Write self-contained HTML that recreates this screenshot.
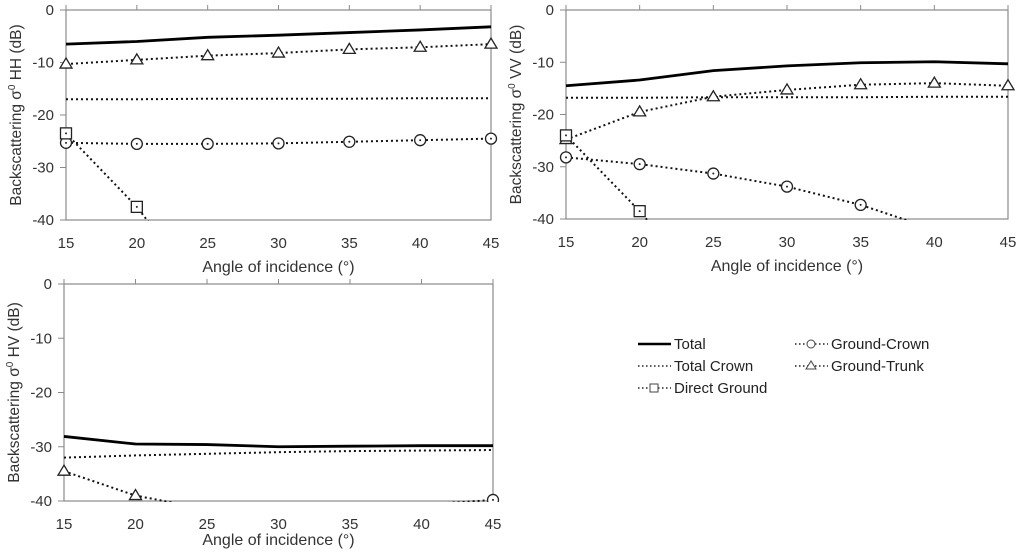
<!DOCTYPE html>
<html><head><meta charset="utf-8"><style>
html,body{margin:0;padding:0;background:#fff;width:1024px;height:554px;overflow:hidden;}
svg{display:block;font-family:"Liberation Sans",sans-serif;}
</style></head><body>
<svg id="chart" width="1024" height="554" viewBox="0 0 1024 554"></svg>
<script>
const angles=[15,20,25,30,35,40,45];
const yTicks=[0,-10,-20,-30,-40];
const hhTotal=[-6.5,-6,-5.2,-4.8,-4.3,-3.8,-3.2];
const hhCrown=[-17,-17,-16.9,-16.9,-16.9,-16.8,-16.8];
const hhDirect=[-23.5,-37.5,-55,-70,-85,-100,-115];
const hhGC=[-25.3,-25.5,-25.5,-25.4,-25.1,-24.8,-24.5];
const hhGT=[-10.3,-9.5,-8.7,-8.2,-7.5,-7.1,-6.5];
const vvTotal=[-14.5,-13.4,-11.6,-10.7,-10.1,-9.9,-10.3];
const vvCrown=[-16.8,-16.8,-16.7,-16.7,-16.7,-16.6,-16.6];
const vvDirect=[-24,-38.5,-55,-70,-85,-100,-115];
const vvGC=[-28.2,-29.5,-31.3,-33.8,-37.3,-42,-47];
const vvGT=[-24.8,-19.5,-16.6,-15.3,-14.3,-14,-14.5];
const hvTotal=[-28.1,-29.5,-29.6,-30,-29.9,-29.8,-29.8];
const hvCrown=[-32,-31.6,-31.3,-31,-30.8,-30.7,-30.6];
const hvGT=[-34.5,-39,-41.5,-43,-44,-45,-46];
const hvGC=[-50,-48,-46,-44,-41.6,-40.7,-39.8];
const panels=[
 {id:'hh',x0:66,x1:491,y0:10,y1:220,title:'HH',series:{total:hhTotal,crown:hhCrown,direct:hhDirect,gc:hhGC,gt:hhGT}},
 {id:'vv',x0:566,x1:1008,y0:10,y1:219,title:'VV',series:{total:vvTotal,crown:vvCrown,direct:vvDirect,gc:vvGC,gt:vvGT}},
 {id:'hv',x0:64,x1:493,y0:284,y1:501,title:'HV',series:{total:hvTotal,crown:hvCrown,gc:hvGC,gt:hvGT}}
];
const YMIN=-42;
const NS='http://www.w3.org/2000/svg';
const svg=document.getElementById('chart');
function mk(tag,attrs,parent){const e=document.createElementNS(NS,tag);for(const k in attrs)e.setAttribute(k,attrs[k]);(parent||svg).appendChild(e);return e;}
const defs=mk('defs',{});
function marker(g,type,x,y){
 if(type==='gc'){const c=mk('circle',{cx:x,cy:y,r:5.5,fill:'#fff',stroke:'#222','stroke-width':1.3},g);mk('circle',{cx:x,cy:y,r:1,fill:'#222'},g);}
 else if(type==='gt'){const p=mk('polygon',{points:`${x},${y-6} ${x-6},${y+4} ${x+6},${y+4}`,fill:'#fff',stroke:'#222','stroke-width':1.3},g);}
 else if(type==='direct'){const r=mk('rect',{x:x-5.5,y:y-5.5,width:11,height:11,fill:'#fff',stroke:'#222','stroke-width':1.3},g);mk('circle',{cx:x,cy:y,r:1,fill:'#222'},g);}
}
// split a series into visible runs, cutting segments at YMIN
function clipRuns(xs,vals){
 const runs=[];let cur=[];
 for(let i=0;i<vals.length;i++){
  const v=vals[i],inside=v>=YMIN;
  if(i>0){
   const pv=vals[i-1],pin=pv>=YMIN;
   if(pin!==inside){
    const t=(YMIN-pv)/(v-pv);
    const cx=xs[i-1]+t*(xs[i]-xs[i-1]);
    cur.push([cx,YMIN]);
    if(pin){runs.push(cur);cur=[];}
   }
  }
  if(inside)cur.push([xs[i],v]);
 }
 if(cur.length>1)runs.push(cur);
 return runs.filter(r=>r.length>1);
}
panels.forEach(p=>{
 const sx=v=>p.x0+(v-15)/30*(p.x1-p.x0);
 const sy=v=>p.y0+(0-v)/40*(p.y1-p.y0);
 const g=mk('g',{});
 
 
 mk('rect',{x:p.x0,y:p.y0,width:p.x1-p.x0,height:p.y1-p.y0,fill:'none',stroke:'#8a8a8a','stroke-width':1.2},g);
 yTicks.forEach(t=>{
  mk('line',{x1:p.x0-6,x2:p.x0,y1:sy(t),y2:sy(t),stroke:'#8a8a8a'},g);
  const tx=mk('text',{x:p.x0-12,y:sy(t)+5,'text-anchor':'end','font-size':15,fill:'#333'},g);tx.textContent=t;
  
 });
 angles.forEach(a=>{
  mk('line',{x1:sx(a),x2:sx(a),y1:p.y0-5,y2:p.y0,stroke:'#8a8a8a'},g);
  const tx=mk('text',{x:sx(a),y:p.y1+28,'text-anchor':'middle','font-size':15,fill:'#333'},g);tx.textContent=a;
  
 });
 const xt=mk('text',{x:(p.x0+p.x1)/2,y:p.y1+(p.id==='hv'?44:52),'text-anchor':'middle','font-size':16,fill:'#333'},g);
 xt.textContent='Angle of incidence (°)';
 
 const cy=(p.y0+p.y1)/2;
 const yt=mk('text',{x:0,y:0,transform:`translate(${p.x0-45},${cy}) rotate(-90)`,'text-anchor':'middle','font-size':15.5,fill:'#333'},g);
 yt.innerHTML='Backscattering σ<tspan dy="-6" font-size="10">0</tspan><tspan dy="6"> '+p.title+' (dB)</tspan>';
 
 const cp=mk('clipPath',{id:'clip-'+p.id,clipPathUnits:'userSpaceOnUse'},defs);
 mk('rect',{x:p.x0-8,y:p.y0-8,width:p.x1-p.x0+16,height:p.y1-p.y0+9},cp);
 const dg=mk('g',{'clip-path':`url(#clip-${p.id})`},g);
 const order=['crown','gc','gt','direct','total'];
 order.forEach(k=>{
  const vals=p.series[k];if(!vals)return;
  const attrsBase=k==='total'?{stroke:'#000','stroke-width':2.8,fill:'none'}:{stroke:'#111','stroke-width':2,fill:'none','stroke-dasharray':'2 3'};
  clipRuns(angles,vals).forEach(run=>{
   const attrs=Object.assign({},attrsBase);
   attrs.points=run.map(pt=>sx(pt[0])+','+sy(pt[1])).join(' ');
   const pl=mk('polyline',attrs,dg);
   
   
  });
  if(k==='gc'||k==='gt'||k==='direct'){
   vals.forEach((v,i)=>{if(v>=-40.5)marker(dg,k,sx(angles[i]),sy(v));});
  }
 });
});
const lg=mk('g',{});


const items=[
 {k:'total',label:'Total',x:638,y:344},
 {k:'crown',label:'Total Crown',x:638,y:366},
 {k:'direct',label:'Direct Ground',x:638,y:388},
 {k:'gc',label:'Ground-Crown',x:795,y:344},
 {k:'gt',label:'Ground-Trunk',x:795,y:366}
];
items.forEach(it=>{
 const eg=mk('g',{},lg);
 
 
 if(it.k==='total')mk('line',{x1:it.x,x2:it.x+33,y1:it.y,y2:it.y,stroke:'#000','stroke-width':2.5},eg);
 else mk('line',{x1:it.x,x2:it.x+33,y1:it.y,y2:it.y,stroke:'#222','stroke-width':1.6,'stroke-dasharray':'1.5 2.5'},eg);
 if(it.k!=='total'&&it.k!=='crown'){
  const x=it.x+16,y=it.y;
  if(it.k==='gc'){mk('circle',{cx:x,cy:y,r:4,fill:'#fff',stroke:'#444'},eg);}
  else if(it.k==='gt'){mk('polygon',{points:`${x},${y-5} ${x-5},${y+3} ${x+5},${y+3}`,fill:'#fff',stroke:'#444'},eg);}
  else {mk('rect',{x:x-4,y:y-4,width:8,height:8,fill:'#fff',stroke:'#444'},eg);}
 }
 const t=mk('text',{x:it.x+36,y:it.y+5,'font-size':15,fill:'#222'},eg);
 t.textContent=it.label;
});
</script>
</body></html>
